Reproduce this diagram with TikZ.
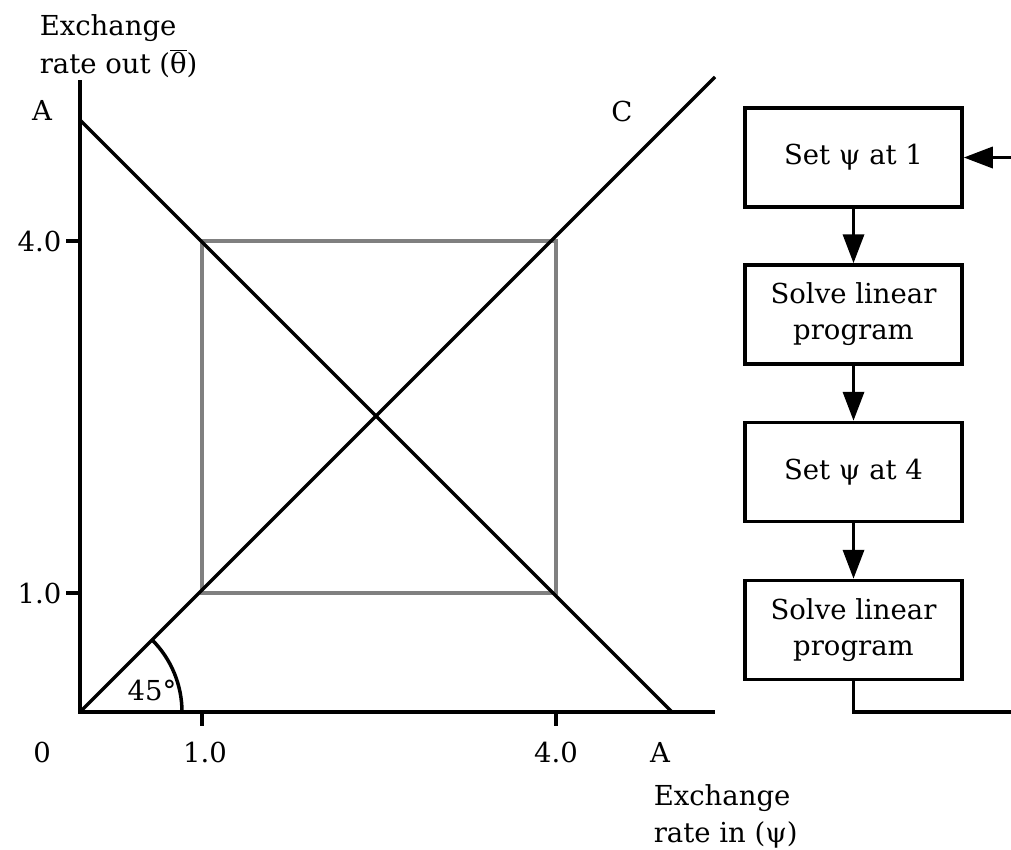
\documentclass[tikz,border=0pt]{standalone}
\usepackage{fontspec}
\setmainfont{DejaVu Serif}
\usetikzlibrary{arrows.meta}
\begin{document}
\begin{tikzpicture}[x=1pt,y=-1pt,line width=3.5pt,
  font=\fontsize{27.5}{39}\selectfont,
  lbl/.style={inner sep=0pt},
  box/.style={draw,line width=3.5pt,minimum width=217pt,minimum height=99pt,align=center,inner sep=2pt},
  flow/.style={-{Triangle[length=29pt,width=21pt]},line width=3.5pt}]
\useasboundingbox (0,0) rectangle (1011,849);
% axes
\coordinate (O) at (80,712);
\coordinate (Ytop) at (80,80);
\coordinate (Xend) at (715,712);
\draw[line join=miter] (Ytop) -- (O) -- (Xend);
% ticks
\coordinate (ty4a) at (66,241); \coordinate (ty4b) at (80,241);
\coordinate (ty1a) at (66,593); \coordinate (ty1b) at (80,593);
\coordinate (tx1a) at (202,712); \coordinate (tx1b) at (202,726);
\coordinate (tx4a) at (556,712); \coordinate (tx4b) at (556,726);
\draw (ty4a) -- (ty4b); \draw (ty1a) -- (ty1b);
\draw (tx1a) -- (tx1b); \draw (tx4a) -- (tx4b);
% square
\draw[color={rgb,255:red,128;green,128;blue,128}] (202,241) rectangle (556,593);
% lines
\coordinate (Atop) at (80,120); \coordinate (Abot) at (672,712);
\coordinate (Ctop) at (715,77);
\draw (Atop) -- (Abot);
\draw (O) -- (Ctop);
% angle arc
\draw (182,712) arc[start angle=0,end angle=-45,radius=102];
% labels
\node[lbl,anchor=base west] (ylab1) at (38,35) {Exchange};
\node[lbl,anchor=base west] (ylab2) at (38,73) {rate out ($\overline{\hbox{θ}}$)};
\node[lbl,anchor=base] (lA1) at (42,120) {A};
\node[lbl,anchor=base] (lC) at (622,121) {C};
\node[lbl,anchor=base east] (l40y) at (63,251) {4.0};
\node[lbl,anchor=base east] (l10y) at (63,603) {1.0};
\node[lbl,anchor=base] (l45) at (152,700) {45°};
\node[lbl,anchor=base] (l0) at (42,762) {0};
\node[lbl,anchor=base] (l10x) at (205,762) {1.0};
\node[lbl,anchor=base] (l40x) at (556,762) {4.0};
\node[lbl,anchor=base] (lA2) at (660,762) {A};
\node[lbl,anchor=base west] (xlab1) at (652,805) {Exchange};
\node[lbl,anchor=base west] (xlab2) at (652,842) {rate in (ψ)};
% flowchart
\node[box] (b1) at (853.5,157.5) {Set ψ at 1};
\node[box] (b2) at (853.5,314.5) {Solve linear\\[-3pt]program};
\node[box] (b3) at (853.5,472) {Set ψ at 4};
\node[box] (b4) at (853.5,630) {Solve linear\\[-3pt]program};
\draw[flow] (b1) -- (b2);
\draw[flow] (b2) -- (b3);
\draw[flow] (b3) -- (b4);
\coordinate (fbR) at (1013,712);
\coordinate (fbT) at (1013,157.5);
\draw (b4.south) |- (fbR);
\draw[flow] (fbT) -- (b1.east);
\end{tikzpicture}
\end{document}
